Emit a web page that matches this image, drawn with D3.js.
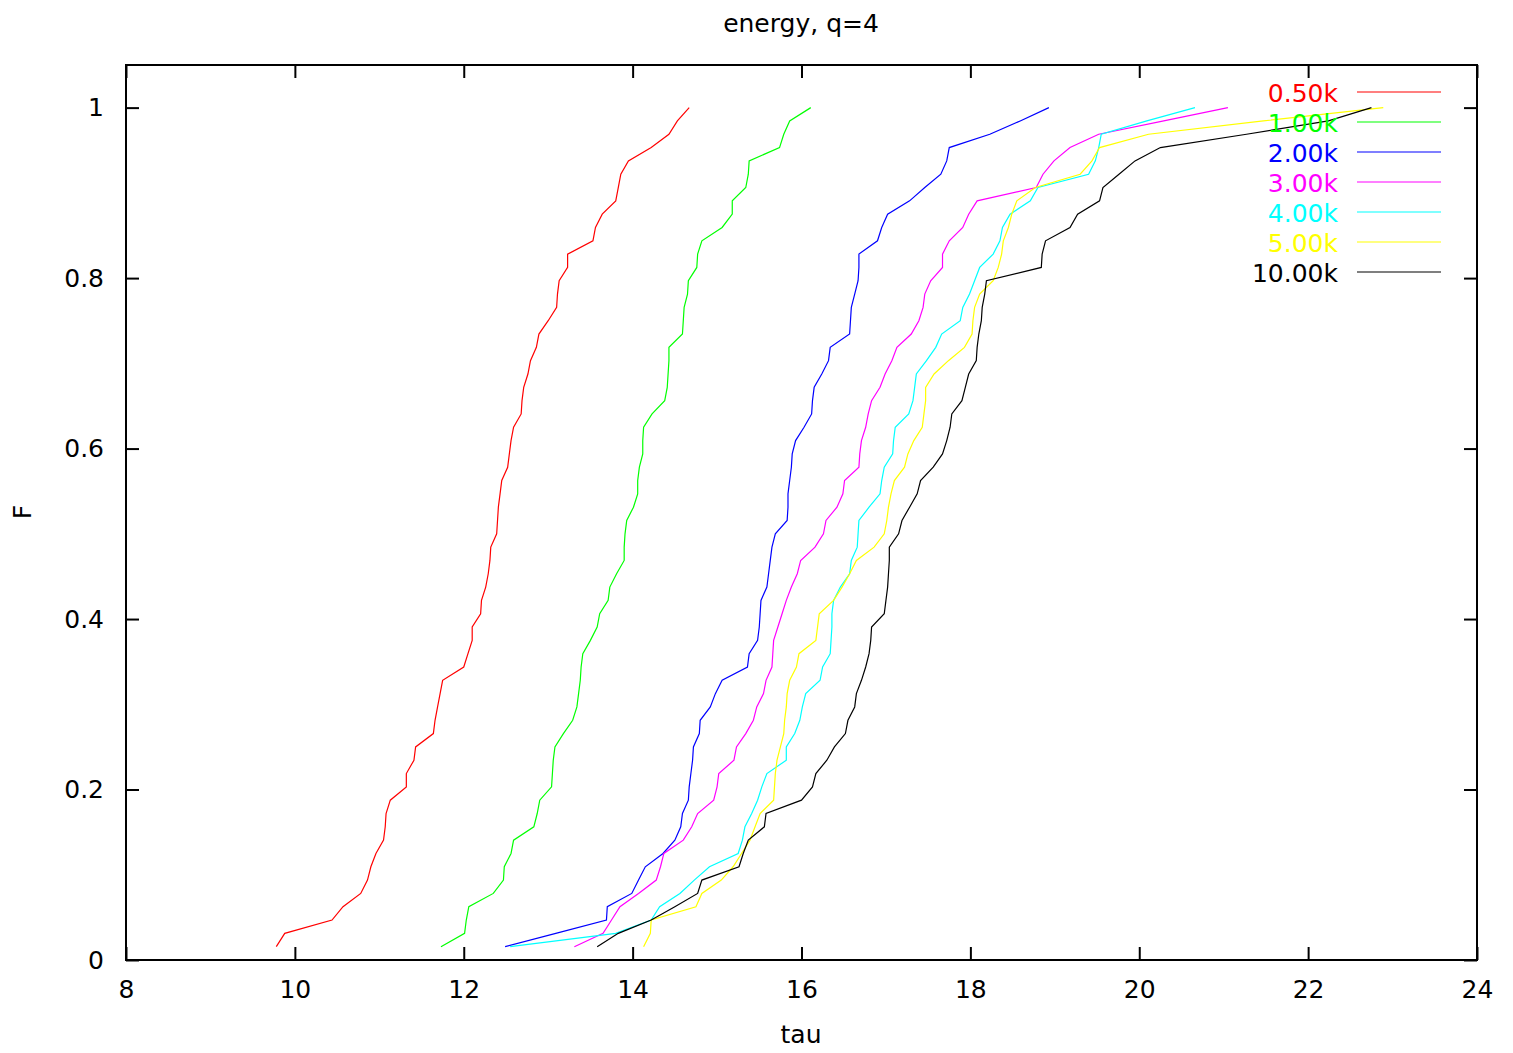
<!DOCTYPE html>
<html>
<head>
<meta charset="utf-8">
<script src="https://cdn.jsdelivr.net/npm/d3@7"></script>
<style>
  body { margin: 0; background: #fff; }
  text { font-family: "DejaVu Sans", sans-serif; }
  .axis path { display: none; }
  .axis line { stroke: #000; stroke-width: 2; }
  .axis text { font-size: 25px; fill: #000; font-family: "DejaVu Sans", sans-serif; }
</style>
</head>
<body>
<script>
//series labels and colours (gnuplot default set)
var labels = ['0.50k', '1.00k', '2.00k', '3.00k', '4.00k', '5.00k', '10.00k'];
var colors = ['#ff0000', '#00ff00', '#0000ff', '#ff00ff', '#00ffff', '#ffff00', '#000000'];

//tau values, sorted; point i has F = i/64
var tau05k = [9.78, 9.88, 10.44, 10.57, 10.78, 10.86, 10.90, 10.96, 11.05, 11.07,
  11.08, 11.13, 11.32, 11.32, 11.41, 11.43, 11.64, 11.66, 11.69, 11.72,
  11.75, 12.00, 12.05, 12.10, 12.10, 12.20, 12.21, 12.26, 12.29, 12.31,
  12.32, 12.39, 12.40, 12.41, 12.43, 12.45, 12.52, 12.54, 12.56, 12.59,
  12.68, 12.69, 12.71, 12.76, 12.79, 12.86, 12.89, 13.00, 13.10, 13.11,
  13.13, 13.23, 13.23, 13.53, 13.56, 13.64, 13.80, 13.83, 13.86, 13.95,
  14.22, 14.43, 14.53, 14.67];
var tau1k = [11.73, 12.01, 12.03, 12.06, 12.35, 12.47, 12.48, 12.56, 12.59, 12.83,
  12.87, 12.90, 13.04, 13.05, 13.06, 13.08, 13.18, 13.29, 13.34, 13.36,
  13.38, 13.39, 13.41, 13.50, 13.58, 13.61, 13.71, 13.73, 13.81, 13.90,
  13.90, 13.91, 13.93, 14.01, 14.06, 14.06, 14.08, 14.12, 14.12, 14.13,
  14.23, 14.38, 14.41, 14.42, 14.43, 14.43, 14.59, 14.60, 14.61, 14.65,
  14.66, 14.76, 14.77, 14.82, 15.06, 15.18, 15.18, 15.34, 15.37, 15.38,
  15.74, 15.79, 15.86, 16.11];
var tau2k = [12.49, 13.09, 13.69, 13.70, 13.99, 14.07, 14.15, 14.36, 14.50, 14.57,
  14.59, 14.66, 14.67, 14.69, 14.71, 14.72, 14.79, 14.80, 14.92, 14.98,
  15.06, 15.36, 15.38, 15.48, 15.50, 15.51, 15.52, 15.59, 15.61, 15.63,
  15.65, 15.69, 15.83, 15.84, 15.84, 15.86, 15.88, 15.89, 15.93, 16.03,
  16.12, 16.13, 16.15, 16.24, 16.32, 16.34, 16.57, 16.58, 16.59, 16.63,
  16.67, 16.68, 16.68, 16.90, 16.95, 17.02, 17.28, 17.46, 17.65, 17.72,
  17.75, 18.23, 18.59, 18.93];
var tau3k = [13.31, 13.65, 13.75, 13.85, 14.07, 14.28, 14.33, 14.37, 14.60, 14.70,
  14.77, 14.96, 15.00, 15.02, 15.20, 15.23, 15.34, 15.43, 15.47, 15.55,
  15.58, 15.65, 15.66, 15.67, 15.72, 15.77, 15.82, 15.88, 15.95, 15.99,
  16.16, 16.26, 16.29, 16.42, 16.49, 16.51, 16.68, 16.69, 16.71, 16.76,
  16.79, 16.83, 16.93, 16.99, 17.07, 17.13, 17.30, 17.39, 17.44, 17.46,
  17.53, 17.67, 17.67, 17.75, 17.91, 17.98, 18.08, 18.78, 18.86, 18.99,
  19.18, 19.52, 20.29, 21.05];
var tau4k = [12.55, 13.80, 14.22, 14.32, 14.56, 14.73, 14.91, 15.25, 15.30, 15.33,
  15.41, 15.48, 15.53, 15.59, 15.82, 15.82, 15.92, 15.98, 16.01, 16.05,
  16.22, 16.25, 16.34, 16.35, 16.36, 16.36, 16.38, 16.46, 16.57, 16.59,
  16.66, 16.67, 16.68, 16.80, 16.93, 16.95, 16.98, 17.08, 17.09, 17.11,
  17.27, 17.32, 17.34, 17.36, 17.48, 17.59, 17.66, 17.88, 17.91, 17.99,
  18.05, 18.11, 18.27, 18.35, 18.38, 18.47, 18.71, 18.80, 19.40, 19.48,
  19.52, 19.55, 20.09, 20.66];
var tau5k = [14.13, 14.21, 14.22, 14.75, 14.82, 15.05, 15.19, 15.29, 15.39, 15.45,
  15.51, 15.67, 15.68, 15.69, 15.71, 15.75, 15.79, 15.80, 15.82, 15.83,
  15.86, 15.94, 15.97, 16.17, 16.19, 16.21, 16.38, 16.48, 16.57, 16.65,
  16.86, 16.98, 17.01, 17.03, 17.06, 17.10, 17.22, 17.26, 17.33, 17.43,
  17.45, 17.47, 17.47, 17.57, 17.74, 17.93, 18.02, 18.03, 18.05, 18.11,
  18.27, 18.33, 18.37, 18.39, 18.45, 18.49, 18.55, 18.77, 19.30, 19.44,
  19.53, 20.11, 21.47, 22.89];
var tau10k = [13.58, 13.83, 14.22, 14.50, 14.77, 14.82, 15.26, 15.31, 15.37, 15.56,
  15.58, 16.00, 16.13, 16.17, 16.30, 16.39, 16.52, 16.55, 16.63, 16.65,
  16.71, 16.76, 16.80, 16.82, 16.83, 16.98, 17.00, 17.02, 17.03, 17.04,
  17.04, 17.15, 17.19, 17.28, 17.37, 17.41, 17.56, 17.67, 17.72, 17.76,
  17.78, 17.90, 17.94, 17.98, 18.07, 18.08, 18.10, 18.13, 18.14, 18.17,
  18.19, 18.84, 18.85, 18.89, 19.18, 19.27, 19.53, 19.57, 19.76, 19.95,
  20.25, 21.27, 22.24, 22.75];

var xTicks = [8, 10, 12, 14, 16, 18, 20, 22, 24];
var yTicks = [0, 0.2, 0.4, 0.6, 0.8, 1];
var yTickLabels = ['0', '0.2', '0.4', '0.6', '0.8', '1'];

var series = [tau05k, tau1k, tau2k, tau3k, tau4k, tau5k, tau10k];

//setup base env
var width = 1513;
var height = 1053;
var padding = {left: 126, right: 36, top: 65, bottom: 93};
var innerW = width - padding.left - padding.right;
var innerH = height - padding.top - padding.bottom;

var svg = d3.select('body').append('svg')
  .attr('width', width)
  .attr('height', height);

var xScale = d3.scaleLinear().domain([8, 24]).range([0, innerW]);
var yScale = d3.scaleLinear().domain([0, 1.05]).range([innerH, 0]);

var g = svg.append('g')
  .attr('transform', 'translate(' + padding.left + ',' + padding.top + ')');

//ticks point inward, mirrored on top/right (gnuplot style)
var tick = 13;

g.append('g').attr('class', 'axis')
  .attr('transform', 'translate(0,' + innerH + ')')
  .call(d3.axisBottom(xScale).tickValues(xTicks).tickSizeInner(-tick).tickSizeOuter(0).tickPadding(20));
g.append('g').attr('class', 'axis')
  .call(d3.axisTop(xScale).tickValues(xTicks).tickSizeInner(-tick).tickSizeOuter(0).tickFormat(''));
g.append('g').attr('class', 'axis')
  .call(d3.axisLeft(yScale).tickValues(yTicks).tickSizeInner(-tick).tickSizeOuter(0).tickPadding(22)
    .tickFormat(function(d, i) { return yTickLabels[i]; }));
g.append('g').attr('class', 'axis')
  .attr('transform', 'translate(' + innerW + ',0)')
  .call(d3.axisRight(yScale).tickValues(yTicks).tickSizeInner(-tick).tickSizeOuter(0).tickFormat(''));

//draw the lines
var line = d3.line()
  .x(function(d) { return xScale(d); })
  .y(function(d, i) { return yScale((i + 1) / 64); });

g.selectAll('.curve')
  .data(series)
  .enter()
  .append('path')
  .attr('class', 'curve')
  .attr('d', line)
  .attr('fill', 'none')
  .attr('stroke', function(d, i) { return colors[i]; })
  .attr('stroke-width', 1.2);

//border
g.append('rect')
  .attr('width', innerW)
  .attr('height', innerH)
  .attr('fill', 'none')
  .attr('stroke', '#000')
  .attr('stroke-width', 2);

//legend
var legend = svg.selectAll('.legend')
  .data(labels)
  .enter()
  .append('g')
  .attr('class', 'legend')
  .attr('transform', function(d, i) { return 'translate(0,' + (92 + i * 30) + ')'; });

legend.append('text')
  .attr('x', 1338)
  .attr('y', 9.5)
  .attr('text-anchor', 'end')
  .style('font-size', '25px')
  .attr('fill', function(d, i) { return colors[i]; })
  .text(function(d) { return d; });

legend.append('line')
  .attr('x1', 1357)
  .attr('x2', 1441)
  .attr('stroke', function(d, i) { return colors[i]; })
  .attr('stroke-width', 1.2);

//title and axis labels
svg.append('text')
  .attr('x', 801).attr('y', 32)
  .attr('text-anchor', 'middle')
  .style('font-size', '25px')
  .text('energy, q=4');

svg.append('text')
  .attr('x', 801).attr('y', 1043)
  .attr('text-anchor', 'middle')
  .style('font-size', '25px')
  .text('tau');

svg.append('text')
  .attr('transform', 'translate(31,512) rotate(-90)')
  .attr('text-anchor', 'middle')
  .style('font-size', '25px')
  .text('F');
</script>
</body>
</html>
